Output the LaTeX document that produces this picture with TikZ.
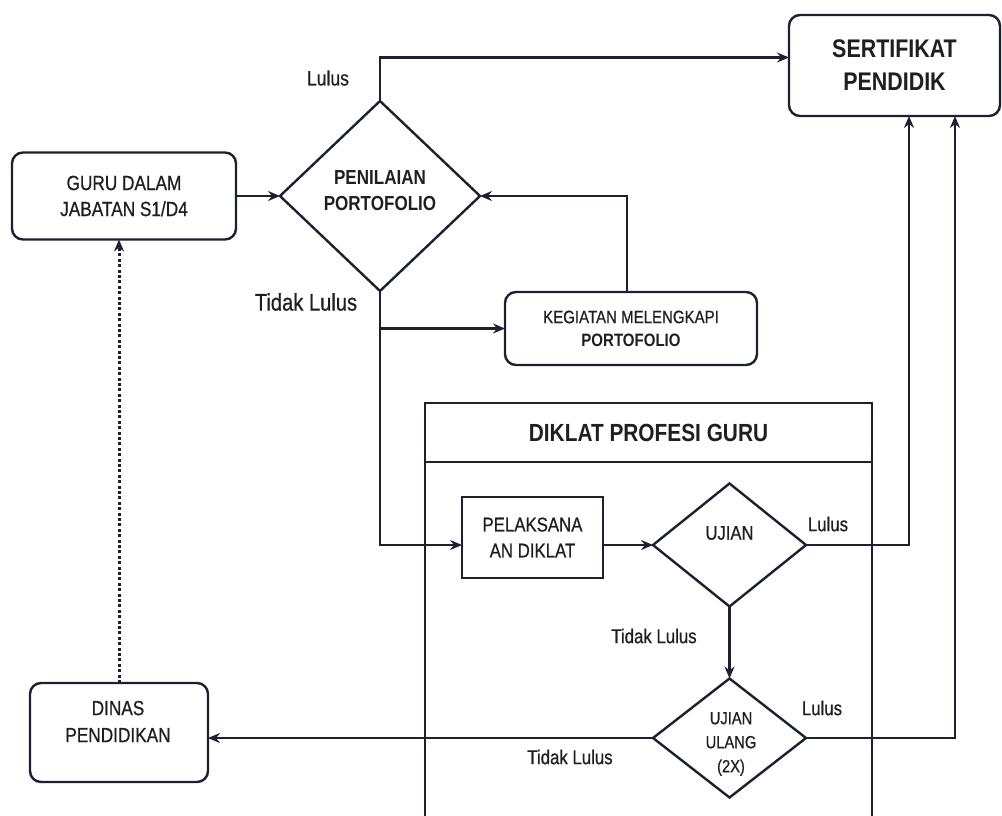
\documentclass[tikz,border=0pt]{standalone}
\usepackage{fontspec}
\setmainfont{Liberation Sans}[FakeStretch=0.84,UprightFeatures={FakeBold=0.6}]
\usetikzlibrary{shapes.geometric,arrows.meta}
\definecolor{ln}{HTML}{1D2030}
\definecolor{tx}{HTML}{1E1E24}
\newcommand{\fs}[2]{\fontsize{#1}{#2}\selectfont}
\begin{document}
\begin{tikzpicture}[x=1pt,y=-1pt,line width=2.4pt,draw=ln,
  arr/.style={draw=ln,line width=2.5pt,-{Stealth[length=12pt,width=10pt,inset=4pt]}},
  rbox/.style={draw=ln,line width=2.4pt,rounded corners=11pt,inner sep=0pt,outer sep=0pt,text=tx,align=center},
  sbox/.style={draw=ln,line width=2.4pt,inner sep=0pt,outer sep=0pt,text=tx,align=center},
  dia/.style={draw=ln,line width=2.4pt,diamond,inner sep=0pt,outer sep=0pt},
  txt/.style={text=tx,align=center,inner sep=0pt},
  lbl/.style={text=tx,inner sep=0pt,font=\fs{20}{24}}]
\useasboundingbox (0,0) rectangle (1002,816);
\fill[white] (0,0) rectangle (1002,816);

% boxes
\node[rbox,minimum width=224pt,minimum height=87pt,font=\fs{20.5}{26}] (guru) at (124,196) {GURU DALAM\\JABATAN S1/D4};
\node[dia,minimum width=200pt,minimum height=190pt] (pen) at (380,196) {};
\node[txt,font=\bfseries\fs{20.3}{26}] (pent) at (380,191) {PENILAIAN\\PORTOFOLIO};
\node[rbox,minimum width=211pt,minimum height=101pt,font=\bfseries\fs{25.5}{33}] (sert) at (894.5,65.5) {SERTIFIKAT\\PENDIDIK};
\node[rbox,minimum width=252pt,minimum height=73pt,font=\fs{17.9}{23}] (keg) at (631,328.5) {KEGIATAN MELENGKAPI\\\textbf{PORTOFOLIO}};

% diklat container
\node[sbox,minimum width=447pt,minimum height=59pt,font=\bfseries\fs{24.8}{30}] (hdr) at (648.5,432.5) {DIKLAT PROFESI GURU};
\draw[draw=ln,line width=2.4pt] (hdr.south west) -- (425,816);
\draw[draw=ln,line width=2.4pt] (hdr.south east) -- (872,816);

\node[sbox,minimum width=141pt,minimum height=81pt,font=\fs{20}{26}] (pel) at (532.5,537.5) {PELAKSANA\\AN DIKLAT};
\node[dia,minimum width=153pt,minimum height=123pt] (uj) at (729.5,545) {};
\node[txt,font=\fs{19.8}{24}] (ujt) at (729.5,533) {UJIAN};
\node[dia,minimum width=153pt,minimum height=119pt] (ul) at (729.5,738) {};
\node[txt,font=\fs{17.5}{24}] (ult) at (731,744) {UJIAN\\ULANG\\(2X)};
\node[rbox,minimum width=178pt,minimum height=99pt] (din) at (119,732.5) {};
\node[txt,font=\fs{20.5}{27}] (dint) at (118,721.5) {DINAS\\PENDIDIKAN};

% connectors
\draw[arr] (guru.east) -- (pen.west);
\draw[arr] (pen.north) |- ([yshift=8pt]sert.west);
\draw[arr] (pen.south) |- (pel.west |- uj.west);
\draw[arr] (pen.south |- keg.west) -- (keg.west);
\draw[arr] ([xshift=-4pt]keg.north) |- (pen.east);
\draw[arr] (pel.east |- uj.west) -- (uj.west);
\draw[arr] (uj.east) -| ([xshift=14.5pt]sert.south);
\draw[arr] (ul.east) -| ([xshift=60.5pt]sert.south);
\draw[arr] (uj.south) -- (ul.north);
\draw[arr] (ul.west) -- (ul.west -| din.east);
\draw[arr,line width=3pt,dash pattern=on 3pt off 2.4pt] (din.north) -- (din.north |- guru.south);

% labels
\node[lbl,font=\fs{20.9}{24}] (l1) at (328,78) {Lulus};
\node[lbl,font=\fs{24}{28}] (l2) at (306,302) {Tidak Lulus};
\node[lbl] (l3) at (828,524) {Lulus};
\node[lbl] (l4) at (654,636) {Tidak Lulus};
\node[lbl] (l5) at (822,708) {Lulus};
\node[lbl] (l6) at (570,757) {Tidak Lulus};
\end{tikzpicture}
\end{document}
